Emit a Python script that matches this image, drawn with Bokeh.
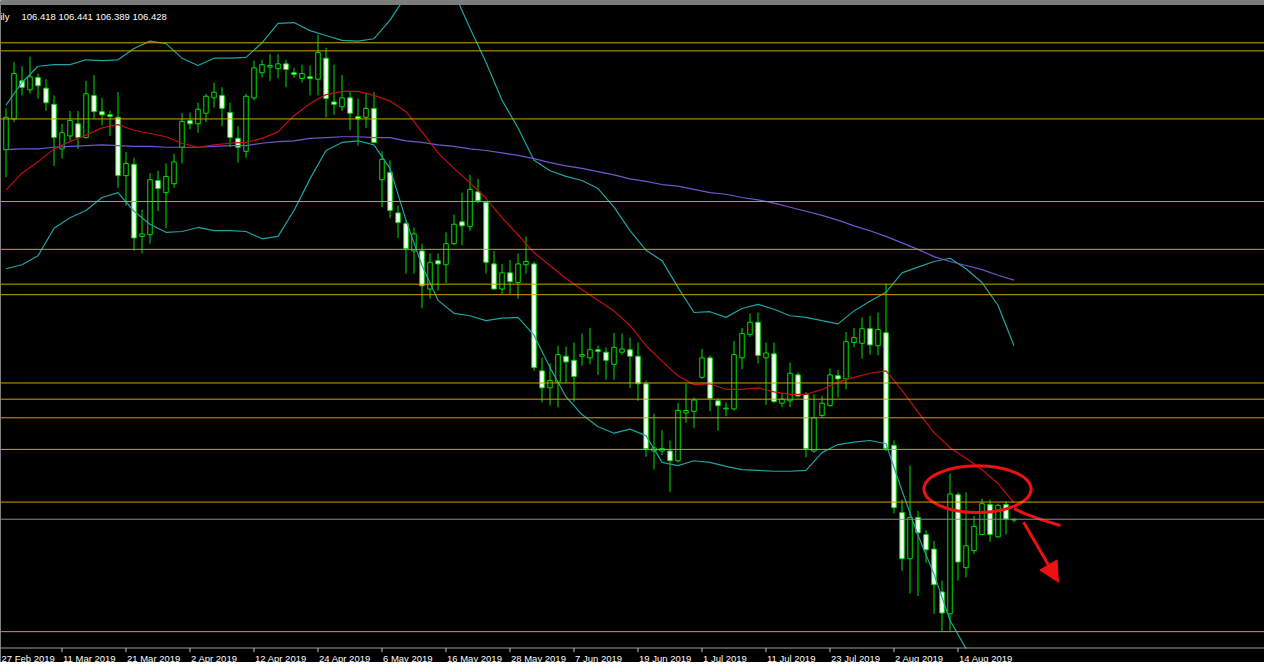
import pandas as pd
from bokeh.plotting import figure
from bokeh.models import (Range1d, Span, Label, Arrow, NormalHead, ColumnDataSource,
                          BoxAnnotation)
from bokeh.core.properties import value
from bokeh.embed import file_html
from bokeh.resources import INLINE

# ---- data (USDJPY daily) ----
dates = list(pd.bdate_range("2019-02-28", "2019-08-23"))

opens = [110.99, 111.37, 111.84, 111.73, 111.88, 111.75, 111.55, 111.00, 111.16, 111.31,
         111.14, 111.66, 111.46, 111.42, 111.39, 110.67, 110.81, 109.92, 109.94, 110.61,
         110.46, 110.57, 111.02, 111.35, 111.31, 111.44, 111.63, 111.66, 111.45, 111.13,
         110.97, 111.63, 111.94, 112.01, 111.99, 112.05, 111.94, 111.87, 111.89, 111.86,
         112.12, 111.58, 111.52, 111.63, 111.40, 111.39, 111.50, 110.62, 110.71, 110.21,
         110.08, 109.74, 109.74, 109.27, 109.62, 109.57, 109.83, 110.10, 110.04, 110.47,
         110.34, 109.58, 109.27, 109.47, 109.35, 109.57, 109.58, 108.26, 108.05, 108.12,
         108.44, 108.39, 108.44, 108.42, 108.52, 108.49, 108.34, 108.49, 108.52, 108.44,
         108.10, 107.27, 107.27, 107.27, 107.15, 107.74, 107.76, 108.18, 108.42, 107.89,
         107.79, 107.79, 108.42, 108.71, 108.86, 108.42, 108.47, 107.86, 107.89, 108.21,
         107.97, 107.27, 107.71, 107.83, 108.20, 108.16, 108.61, 108.60, 108.78, 108.57,
         108.73, 107.34, 106.51, 105.94, 106.45, 106.24, 106.06, 105.53, 105.26, 106.73,
         105.83, 106.04, 106.24, 106.61, 106.21, 106.61, 106.418]
highs = [111.50, 112.07, 112.02, 112.14, 111.93, 111.86, 111.66, 111.31, 111.47, 111.47,
         111.84, 111.91, 111.63, 111.47, 111.70, 110.96, 110.89, 110.25, 110.70, 110.73,
         110.82, 110.94, 111.44, 111.45, 111.57, 111.68, 111.82, 111.76, 111.57, 111.28,
         111.68, 112.09, 112.10, 112.17, 112.17, 112.10, 112.00, 112.04, 112.03, 112.41,
         112.25, 112.04, 111.91, 111.70, 111.62, 111.68, 111.70, 110.97, 110.86, 110.30,
         110.12, 110.03, 109.83, 109.71, 109.71, 109.97, 110.19, 110.46, 110.68, 110.63,
         110.36, 109.74, 109.58, 109.63, 109.71, 109.92, 109.61, 108.42, 108.35, 108.57,
         108.56, 108.61, 108.72, 108.79, 108.57, 108.55, 108.73, 108.72, 108.67, 108.61,
         108.14, 107.73, 107.53, 107.40, 107.86, 108.10, 107.93, 108.53, 108.45, 107.92,
         107.87, 108.63, 108.79, 108.97, 108.98, 108.61, 108.61, 107.98, 108.36, 108.24,
         108.00, 107.97, 107.95, 108.29, 108.27, 108.74, 108.79, 108.92, 108.94, 108.98,
         109.34, 107.40, 106.67, 107.09, 106.53, 106.29, 106.16, 105.67, 106.99, 106.76,
         106.76, 106.47, 106.68, 106.67, 106.62, 106.65, 106.441]
lows = [110.65, 111.33, 111.66, 111.68, 111.62, 111.47, 110.79, 110.88, 111.10, 111.00,
        111.13, 111.37, 111.29, 111.16, 110.52, 110.30, 109.74, 109.71, 109.83, 110.23,
        110.02, 110.52, 110.82, 111.24, 111.20, 111.33, 111.51, 111.28, 111.02, 110.83,
        110.89, 111.60, 111.88, 111.84, 111.87, 111.76, 111.88, 111.82, 111.66, 111.66,
        111.39, 111.42, 111.47, 111.23, 111.04, 111.26, 111.07, 110.28, 110.15, 109.90,
        109.46, 109.46, 109.03, 109.15, 109.25, 109.34, 109.81, 109.81, 109.99, 110.33,
        109.46, 109.26, 109.21, 109.21, 109.15, 109.46, 108.26, 107.87, 107.83, 107.81,
        108.11, 107.88, 108.32, 108.34, 108.21, 108.15, 108.15, 108.46, 108.05, 107.89,
        107.20, 107.04, 107.22, 106.76, 107.13, 107.62, 107.55, 108.16, 107.76, 107.52,
        107.70, 107.77, 108.28, 108.68, 108.35, 107.84, 107.86, 107.81, 107.81, 107.93,
        107.19, 107.25, 107.68, 107.82, 107.93, 108.03, 108.55, 108.41, 108.46, 108.45,
        107.27, 106.50, 105.79, 105.51, 105.48, 105.89, 105.26, 105.05, 105.05, 105.67,
        105.71, 106.00, 106.23, 106.15, 106.20, 106.24, 106.389]
closes = [111.39, 111.93, 111.76, 111.89, 111.78, 111.57, 111.14, 111.20, 111.35, 111.14,
          111.68, 111.46, 111.42, 111.40, 110.67, 110.82, 109.90, 109.95, 110.62, 110.51,
          110.66, 110.84, 111.34, 111.31, 111.49, 111.65, 111.70, 111.50, 111.14, 111.02,
          111.65, 112.00, 112.04, 112.03, 112.05, 111.98, 111.92, 111.93, 111.87, 112.19,
          111.62, 111.55, 111.63, 111.44, 111.37, 111.50, 111.08, 110.87, 110.24, 110.09,
          109.77, 109.95, 109.31, 109.60, 109.58, 109.83, 110.07, 110.05, 110.50, 110.36,
          109.60, 109.27, 109.47, 109.36, 109.58, 109.61, 108.30, 108.05, 108.14, 108.46,
          108.37, 108.19, 108.46, 108.52, 108.50, 108.39, 108.55, 108.53, 108.44, 108.10,
          107.30, 107.31, 107.30, 107.15, 107.77, 107.77, 107.90, 108.42, 107.92, 107.83,
          107.80, 108.46, 108.72, 108.86, 108.45, 108.48, 107.88, 107.91, 108.23, 107.95,
          107.30, 107.68, 107.86, 108.21, 108.16, 108.62, 108.67, 108.78, 108.58, 108.77,
          107.30, 106.57, 105.94, 106.45, 106.26, 106.05, 105.62, 105.27, 106.74, 105.90,
          106.10, 106.34, 106.62, 106.24, 106.60, 106.43, 106.428]

# indicator lines, read every second bar
ind_idx = list(range(0, 127, 2))
bb_upper = [111.54, 111.82, 112.02, 112.04, 112.04, 112.10, 112.09, 112.10, 112.24, 112.33,
            112.30, 112.12, 112.03, 112.12, 112.12, 112.13, 112.31, 112.55, 112.56, 112.46,
            112.40, 112.34, 112.33, 112.36, 112.59, 112.89, 113.08, 113.08, 112.93, 112.49,
            112.07, 111.60, 111.26, 110.86, 110.73, 110.66, 110.61, 110.51, 110.28, 109.99,
            109.75, 109.62, 109.29, 108.98, 108.99, 108.92, 109.03, 109.08, 109.02, 108.94,
            108.92, 108.88, 108.84, 109.00, 109.12, 109.23, 109.47, 109.54, 109.61, 109.65,
            109.52, 109.35, 109.07, 108.57]
bb_lower = [109.52, 109.57, 109.68, 110.02, 110.15, 110.24, 110.40, 110.46, 110.23, 110.07,
            109.97, 109.98, 110.03, 109.99, 109.99, 109.98, 109.89, 109.92, 110.24, 110.63,
            110.98, 111.08, 111.10, 111.05, 110.76, 110.12, 109.56, 109.13, 108.97, 108.94,
            108.88, 108.91, 108.92, 108.70, 108.30, 107.94, 107.72, 107.57, 107.49, 107.54,
            107.46, 107.13, 107.09, 107.15, 107.13, 107.08, 107.04, 107.03, 107.02, 107.02,
            107.03, 107.25, 107.35, 107.38, 107.40, 107.36, 106.78, 106.23, 105.75, 105.18,
            104.83]
ma_fast = [110.49, 110.70, 110.84, 111.00, 111.09, 111.17, 111.26, 111.30, 111.23, 111.19,
           111.15, 111.07, 111.02, 111.05, 111.07, 111.08, 111.13, 111.21, 111.41, 111.56,
           111.67, 111.71, 111.71, 111.66, 111.59, 111.46, 111.21, 110.95, 110.76, 110.58,
           110.39, 110.15, 109.94, 109.72, 109.56, 109.40, 109.26, 109.13, 109.00, 108.82,
           108.57, 108.38, 108.20, 108.09, 108.10, 108.03, 108.03, 108.05, 108.00, 107.97,
           107.97, 108.03, 108.12, 108.18, 108.23, 108.26, 108.02, 107.75, 107.50, 107.31,
           107.18, 107.04, 106.87, 106.63]
ma_slow = [110.99, 111.00, 111.00, 111.02, 111.03, 111.04, 111.05, 111.04, 111.03, 111.03,
           111.02, 111.02, 111.02, 111.03, 111.04, 111.04, 111.07, 111.09, 111.10, 111.13,
           111.14, 111.15, 111.15, 111.14, 111.14, 111.10, 111.08, 111.05, 111.03, 111.00,
           110.98, 110.95, 110.92, 110.88, 110.83, 110.79, 110.76, 110.72, 110.68, 110.63,
           110.60, 110.56, 110.54, 110.50, 110.46, 110.44, 110.40, 110.37, 110.33, 110.28,
           110.23, 110.18, 110.12, 110.05, 109.99, 109.92, 109.84, 109.76, 109.67, 109.61,
           109.56, 109.51, 109.44, 109.38]

levels = [112.31, 112.21, 111.37, 110.35, 109.76, 109.33, 109.20, 108.11, 107.91,
          107.68, 107.29, 106.64, 105.04]
bid = closes[-1]

tick_labels = ["27 Feb 2019", "11 Mar 2019", "21 Mar 2019", "2 Apr 2019", "12 Apr 2019",
               "24 Apr 2019", "6 May 2019", "16 May 2019", "28 May 2019", "7 Jun 2019",
               "19 Jun 2019", "1 Jul 2019", "11 Jul 2019", "23 Jul 2019", "2 Aug 2019",
               "14 Aug 2019"]

header_name = "ily"
header_quote = "106.418 106.441 106.389 106.428"

# annotation shapes drawn by hand on the original
ell = dict(x=121.44, y=106.80, w=13.4, h=0.58)
swoosh_x = [126.0, 127.5, 129.5, 131.8]
swoosh_y = [106.56, 106.49, 106.42, 106.35]
arrow_pts = dict(x0=127.2, y0=106.39, x1=131.56, y1=105.65)

# ---- layout constants (pixels -> price) ----
PX_PER_BAR = 8.0
PX_PER_YEN = 81.0
Y_TOP = 112.832           # price at the top edge of the frame
FRAME_W, FRAME_H = 1264, 662
X0 = -0.6875              # bar index at the left edge


def price_at(px):
    return Y_TOP - px / PX_PER_YEN


axis_y = price_at(647.5)
tick_end = price_at(651.5)
label_base = price_at(657.5)

# ---- build ----
idx = list(range(len(closes)))
date_pos = {d.strftime("%d %b %Y").lstrip("0"): i for i, d in enumerate(dates)}
prev_day = dates[0] - pd.offsets.BDay(1)
date_pos[prev_day.strftime("%d %b %Y").lstrip("0")] = -1
tick_pos = [date_pos[t] for t in tick_labels]
label_x = [max(t + 1 / PX_PER_BAR, X0 + 1 / PX_PER_BAR) for t in tick_pos]

src = ColumnDataSource(dict(
    x=idx, o=opens, h=highs, l=lows, c=closes,
    top=[max(a, b) for a, b in zip(opens, closes)],
    bot=[min(a, b) for a, b in zip(opens, closes)],
    fill=["#000000" if c >= o else "#ffffff" for o, c in zip(opens, closes)],
))

p = figure(frame_width=FRAME_W, frame_height=FRAME_H, output_backend="svg",
           toolbar_location=None, x_axis_location=None, y_axis_location=None,
           x_range=Range1d(X0, X0 + FRAME_W / PX_PER_BAR),
           y_range=Range1d(price_at(FRAME_H), Y_TOP),
           min_border_left=0, min_border_right=0, min_border_top=0, min_border_bottom=0,
           background_fill_color="black", border_fill_color="black", outline_line_color=None)
p.grid.visible = False

# window chrome strip at the top
p.add_layout(BoxAnnotation(bottom=price_at(4.5), fill_color="#7c7c7c", fill_alpha=1,
                           line_color=None))

for lv in levels:
    p.add_layout(Span(location=lv, dimension="width", line_color="#d2a400", line_width=1))
p.add_layout(Span(location=bid, dimension="width", line_color="#8c8c8c", line_width=1))

p.segment(x0="x", y0="l", x1="x", y1="h", source=src, line_color="#00e000", line_width=1)
p.vbar(x="x", width=0.56, top="top", bottom="bot", source=src,
       fill_color="fill", line_color="#00e000", line_width=1)

p.line(ind_idx, bb_upper, line_color="#1fa3a3", line_width=1.2)
p.line(ind_idx[:len(bb_lower)], bb_lower, line_color="#1fa3a3", line_width=1.2)
p.line(ind_idx, ma_slow, line_color="#6a5acd", line_width=1.2)
p.line(ind_idx, ma_fast, line_color="#c01010", line_width=1.2)

p.ellipse(x=[ell["x"]], y=[ell["y"]], width=[ell["w"]], height=[ell["h"]],
          fill_color=None, line_color="#ee1111", line_width=3)
p.line(swoosh_x, swoosh_y, line_color="#ee1111", line_width=3)
p.add_layout(Arrow(end=NormalHead(size=20, fill_color="#ee1111", line_color="#ee1111"),
                   x_start=arrow_pts["x0"], y_start=arrow_pts["y0"],
                   x_end=arrow_pts["x1"], y_end=arrow_pts["y1"],
                   line_color="#ee1111", line_width=3))

# header text
p.add_layout(Label(x=0, y=price_at(16), x_units="screen", text=header_name,
                   text_color="white", text_font="Liberation Sans", text_font_size="9.5px",
                   text_baseline="alphabetic"))
p.add_layout(Label(x=21, y=price_at(16), x_units="screen", text=header_quote,
                   text_color="white", text_font="Liberation Sans", text_font_size="9.5px",
                   text_baseline="alphabetic"))

# time axis (MetaTrader style: labels start at the tick)
p.add_layout(Span(location=axis_y, dimension="width", line_color="#a0a0a0", line_width=1))
p.segment(x0=tick_pos, y0=[axis_y] * len(tick_pos), x1=tick_pos, y1=[tick_end] * len(tick_pos),
          line_color="#c8c8c8", line_width=1)
p.text(x=label_x, y=[label_base] * len(tick_pos), text=tick_labels, text_align="left",
       text_baseline="alphabetic", text_color="white",
       text_font=value("Liberation Sans"), text_font_size="9.5px")

open("out.html", "w").write(file_html(p, INLINE))
